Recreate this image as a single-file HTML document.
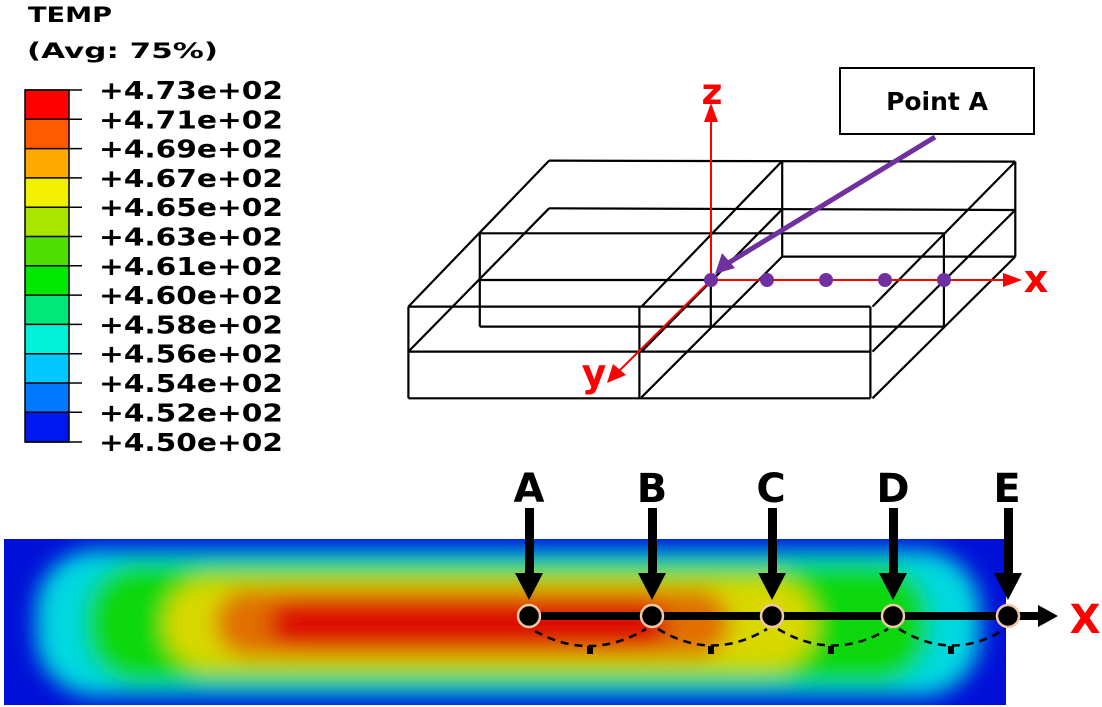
<!DOCTYPE html>
<html><head><meta charset="utf-8"><style>
html,body{margin:0;padding:0;background:#fff;}
svg{display:block;}
text{font-family:"DejaVu Sans","Liberation Sans",sans-serif;font-weight:bold;}
</style></head><body>
<svg width="1102" height="707" viewBox="0 0 1102 707" xmlns="http://www.w3.org/2000/svg">
<defs>
<filter id="bl" x="-20%" y="-50%" width="140%" height="200%"><feGaussianBlur stdDeviation="11"/></filter>
<clipPath id="pc"><rect x="4" y="539" width="1002" height="166"/></clipPath>
</defs>
<!-- legend -->
<text x="28" y="22" font-size="21" textLength="84" lengthAdjust="spacingAndGlyphs">TEMP</text>
<text x="27" y="58" font-size="21" textLength="191" lengthAdjust="spacingAndGlyphs">(Avg: 75%)</text>
<g stroke="none">
<rect x="25" y="90" width="44" height="29.3" fill="#ff0000"/>
<rect x="25" y="119.3" width="44" height="29.3" fill="#ff5a00"/>
<rect x="25" y="148.6" width="44" height="29.3" fill="#ffaa00"/>
<rect x="25" y="177.9" width="44" height="29.3" fill="#f0f000"/>
<rect x="25" y="207.2" width="44" height="29.3" fill="#a8e600"/>
<rect x="25" y="236.5" width="44" height="29.3" fill="#4ee000"/>
<rect x="25" y="265.8" width="44" height="29.3" fill="#00e800"/>
<rect x="25" y="295.1" width="44" height="29.3" fill="#00e87a"/>
<rect x="25" y="324.4" width="44" height="29.3" fill="#00f0d8"/>
<rect x="25" y="353.7" width="44" height="29.3" fill="#00c8ff"/>
<rect x="25" y="383" width="44" height="29.3" fill="#0078ff"/>
<rect x="25" y="412.3" width="44" height="29.7" fill="#0018f0"/>
</g>
<g stroke="#000" stroke-width="1.5">
<rect x="25" y="90" width="44" height="352" fill="none"/>
<line x1="25" y1="90" x2="82" y2="90"/><line x1="25" y1="119.3" x2="82" y2="119.3"/><line x1="25" y1="148.6" x2="82" y2="148.6"/><line x1="25" y1="177.9" x2="82" y2="177.9"/><line x1="25" y1="207.2" x2="82" y2="207.2"/><line x1="25" y1="236.5" x2="82" y2="236.5"/><line x1="25" y1="265.8" x2="82" y2="265.8"/><line x1="25" y1="295.1" x2="82" y2="295.1"/><line x1="25" y1="324.4" x2="82" y2="324.4"/><line x1="25" y1="353.7" x2="82" y2="353.7"/><line x1="25" y1="383" x2="82" y2="383"/><line x1="25" y1="412.3" x2="82" y2="412.3"/><line x1="25" y1="442" x2="82" y2="442"/>
</g>
<g font-size="25">
<text x="99" y="99" textLength="184" lengthAdjust="spacingAndGlyphs">+4.73e+02</text>
<text x="99" y="128.3" textLength="184" lengthAdjust="spacingAndGlyphs">+4.71e+02</text>
<text x="99" y="157.6" textLength="184" lengthAdjust="spacingAndGlyphs">+4.69e+02</text>
<text x="99" y="186.9" textLength="184" lengthAdjust="spacingAndGlyphs">+4.67e+02</text>
<text x="99" y="216.2" textLength="184" lengthAdjust="spacingAndGlyphs">+4.65e+02</text>
<text x="99" y="245.5" textLength="184" lengthAdjust="spacingAndGlyphs">+4.63e+02</text>
<text x="99" y="274.8" textLength="184" lengthAdjust="spacingAndGlyphs">+4.61e+02</text>
<text x="99" y="304.1" textLength="184" lengthAdjust="spacingAndGlyphs">+4.60e+02</text>
<text x="99" y="333.4" textLength="184" lengthAdjust="spacingAndGlyphs">+4.58e+02</text>
<text x="99" y="362.7" textLength="184" lengthAdjust="spacingAndGlyphs">+4.56e+02</text>
<text x="99" y="392" textLength="184" lengthAdjust="spacingAndGlyphs">+4.54e+02</text>
<text x="99" y="421.3" textLength="184" lengthAdjust="spacingAndGlyphs">+4.52e+02</text>
<text x="99" y="451" textLength="184" lengthAdjust="spacingAndGlyphs">+4.50e+02</text>
</g>

<!-- 3D box -->
<g transform="translate(400,60) scale(0.42,0.3333)" fill="none" stroke="#000">
<g stroke-width="2.2">
<line x1="355" y1="302" x2="1465" y2="305" vector-effect="non-scaling-stroke"/>
<line x1="355" y1="445" x2="1465" y2="450" vector-effect="non-scaling-stroke"/>
<line x1="910" y1="590" x2="1465" y2="590" vector-effect="non-scaling-stroke"/>
<line x1="190" y1="520" x2="1295" y2="520" vector-effect="non-scaling-stroke"/>
<line x1="190" y1="660" x2="740" y2="660" vector-effect="non-scaling-stroke"/>
<line x1="190" y1="800" x2="1295" y2="800" vector-effect="non-scaling-stroke"/>
<line x1="20" y1="740" x2="1120" y2="740" vector-effect="non-scaling-stroke"/>
<line x1="20" y1="875" x2="1120" y2="875" vector-effect="non-scaling-stroke"/>
<line x1="20" y1="1015" x2="1120" y2="1015" vector-effect="non-scaling-stroke"/>
<line x1="20" y1="740" x2="20" y2="1015" vector-effect="non-scaling-stroke"/>
<line x1="570" y1="740" x2="570" y2="1015" vector-effect="non-scaling-stroke"/>
<line x1="1120" y1="740" x2="1120" y2="1015" vector-effect="non-scaling-stroke"/>
<line x1="190" y1="520" x2="190" y2="800" vector-effect="non-scaling-stroke"/>
<line x1="1295" y1="520" x2="1295" y2="800" vector-effect="non-scaling-stroke"/>
<line x1="740" y1="660" x2="740" y2="800" vector-effect="non-scaling-stroke"/>
<line x1="910" y1="302" x2="910" y2="590" vector-effect="non-scaling-stroke"/>
<line x1="1465" y1="305" x2="1465" y2="590" vector-effect="non-scaling-stroke"/>
<line x1="355" y1="302" x2="20" y2="740" vector-effect="non-scaling-stroke"/>
<line x1="355" y1="445" x2="20" y2="875" vector-effect="non-scaling-stroke"/>
<line x1="910" y1="303" x2="575" y2="740" vector-effect="non-scaling-stroke"/>
<line x1="910" y1="448" x2="575" y2="875" vector-effect="non-scaling-stroke"/>
<line x1="910" y1="590" x2="575" y2="1012" vector-effect="non-scaling-stroke"/>
<line x1="1465" y1="305" x2="1125" y2="740" vector-effect="non-scaling-stroke"/>
<line x1="1465" y1="450" x2="1125" y2="875" vector-effect="non-scaling-stroke"/>
<line x1="1465" y1="590" x2="1125" y2="1015" vector-effect="non-scaling-stroke"/>
</g>
</g>
<!-- axes -->
<g stroke="#f00" stroke-width="2">
<line x1="711" y1="280" x2="711" y2="118"/>
<line x1="711" y1="280" x2="1005" y2="280"/>
<line x1="711" y1="280" x2="620" y2="370"/>
</g>
<g fill="#f00">
<polygon points="711,103 704,122 718,122"/>
<polygon points="1022,280 1003,273 1003,287"/>
<polygon points="607,383 613,364 626,375"/>
</g>
<text x="712" y="104" font-size="36" fill="#f00" text-anchor="middle">z</text>
<text x="1036" y="292" font-size="38" fill="#f00" text-anchor="middle">x</text>
<text x="594" y="386" font-size="38" fill="#f00" text-anchor="middle">y</text>
<!-- purple -->
<line x1="935" y1="137" x2="725" y2="265" stroke="#7030a0" stroke-width="5"/>
<polygon points="715,274 722,253 735,268" fill="#7030a0"/>
<g fill="#7030a0">
<circle cx="711" cy="280" r="7"/><circle cx="767" cy="280" r="7"/><circle cx="826" cy="280" r="7"/><circle cx="885" cy="280" r="7"/><circle cx="944" cy="280" r="7"/>
</g>
<rect x="840" y="68" width="194" height="66" fill="#fff" stroke="#000" stroke-width="2"/>
<text x="937" y="110" font-size="25" fill="#000" text-anchor="middle">Point A</text>

<!-- heat plate -->
<g clip-path="url(#pc)">
<rect x="0" y="530" width="1010" height="180" fill="#0010d8"/>
<g filter="url(#bl)">
<rect x="36" y="550" width="944" height="146" rx="60" fill="#00d8e0"/>
<rect x="85" y="562" width="845" height="122" rx="55" fill="#10d810"/>
<rect x="165" y="578" width="650" height="92" rx="46" fill="#d8d800"/>
<rect x="215" y="589" width="515" height="68" rx="34" fill="#e07000"/>
<rect x="268" y="599" width="400" height="49" rx="24" fill="#dc1000"/>
</g>
</g>

<!-- labels & arrows -->
<g font-size="40" fill="#000" text-anchor="middle">
<text x="529" y="502">A</text><text x="652" y="502">B</text><text x="771" y="502">C</text><text x="893" y="502">D</text><text x="1007" y="502">E</text>
</g>
<g fill="#000">
<rect x="525" y="508" width="9" height="66"/><polygon points="515,573 543,573 529,600"/>
<rect x="648" y="508" width="9" height="66"/><polygon points="638,573 666,573 652,600"/>
<rect x="768" y="508" width="9" height="66"/><polygon points="758,573 786,573 772,600"/>
<rect x="889" y="508" width="9" height="66"/><polygon points="879,573 907,573 893,600"/>
<rect x="1004" y="508" width="9" height="66"/><polygon points="994,573 1022,573 1008,600"/>
</g>
<line x1="529" y1="616" x2="1042" y2="616" stroke="#000" stroke-width="8"/>
<polygon points="1038,605 1058,616 1038,627" fill="#000"/>
<text x="1085" y="633" font-size="40" fill="#f00" text-anchor="middle">X</text>
<g fill="none" stroke="#000" stroke-width="2.5" stroke-dasharray="8,6">
<path d="M535,631 Q590,662 646,629"/>
<path d="M658,629 Q712,662 767,629"/>
<path d="M778,629 Q833,662 888,629"/>
<path d="M899,629 Q953,662 1005,629"/>
</g>
<g fill="#000">
<rect x="587" y="646" width="6" height="8"/><rect x="708" y="646" width="6" height="8"/><rect x="828" y="646" width="6" height="8"/><rect x="948" y="646" width="6" height="8"/>
</g>
<g fill="#000" stroke="#f0c8a8" stroke-width="2.5">
<circle cx="529" cy="616" r="11"/><circle cx="652" cy="616" r="11"/><circle cx="772" cy="616" r="11"/><circle cx="893" cy="616" r="11"/><circle cx="1008" cy="616" r="11"/>
</g>
</svg>
</body></html>
